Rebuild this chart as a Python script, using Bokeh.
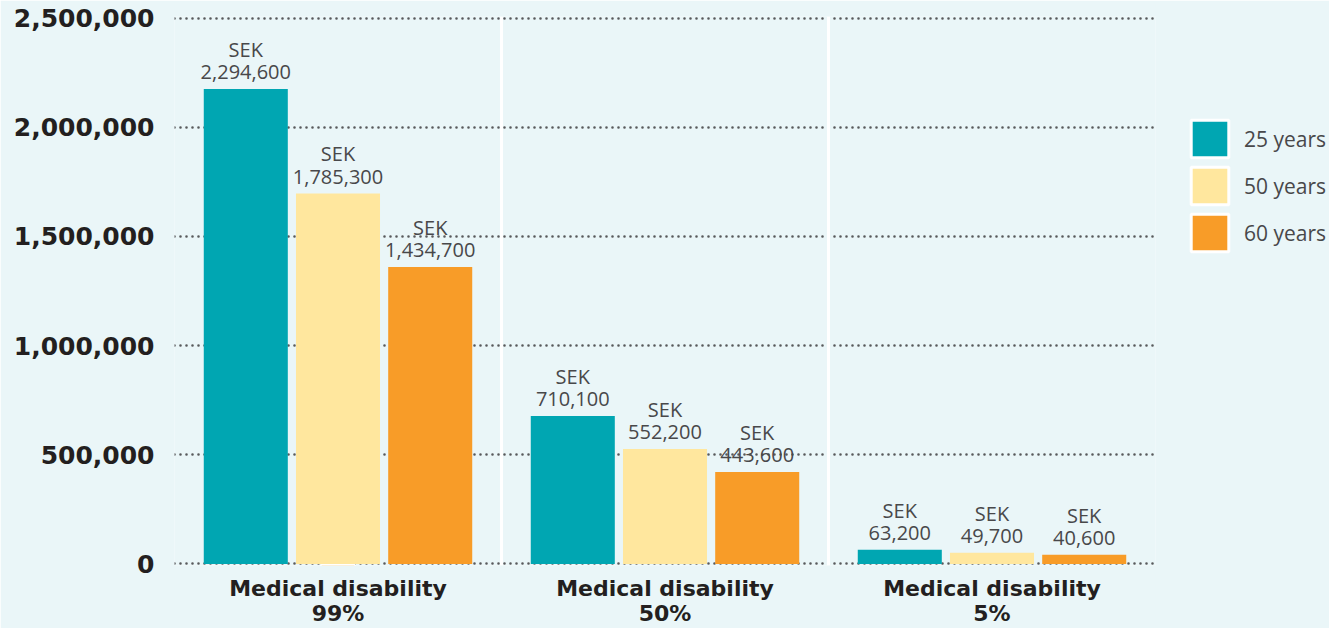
from bokeh.plotting import figure
from bokeh.models import ColumnDataSource, FactorRange, Range1d, Span, Legend, LegendItem, FixedTicker, NumeralTickFormatter
from bokeh.transform import dodge
from bokeh.core.properties import value
from bokeh.embed import file_html
from bokeh.resources import INLINE

groups = ["Medical disability\n99%", "Medical disability\n50%", "Medical disability\n5%"]
series = ["25 years", "50 years", "60 years"]
colors = ["#00A6B2", "#FFE79E", "#F89C28"]

# bar heights
bars_25 = [2175000, 678000, 65000]
bars_50 = [1696000, 527000, 51000]
bars_60 = [1360000, 421000, 42000]

# printed value labels
labels_25 = ["2,294,600", "710,100", "63,200"]
labels_50 = ["1,785,300", "552,200", "49,700"]
labels_60 = ["1,434,700", "443,600", "40,600"]

y_ticks = [0, 500000, 1000000, 1500000, 2000000, 2500000]

BG = "#EAF6F8"

p = figure(x_range=FactorRange(*groups), y_range=Range1d(-6870, 2506870),
           frame_width=981, frame_height=549,
           min_border_left=174, min_border_top=16, min_border_right=160, min_border_bottom=0,
           output_backend="svg", toolbar_location=None,
           background_fill_color=BG, border_fill_color=BG, outline_line_color=None)

for xloc in [1, 2]:
    p.add_layout(Span(location=xloc, dimension="height", line_color="white", line_width=3, level="underlay"))

series_bars = [bars_25, bars_50, bars_60]
series_labels = [labels_25, labels_50, labels_60]
offsets = [-0.282, 0.0, 0.282]

for vals, labs, off, col in zip(series_bars, series_labels, offsets, colors):
    src = ColumnDataSource(dict(g=groups, v=vals, t=["SEK\n" + s for s in labs]))
    p.vbar(x=dodge("g", off, range=p.x_range), top="v", width=0.257, source=src,
           fill_color=col, line_color=None)
    p.text(x=dodge("g", off, range=p.x_range), y="v", text="t", source=src,
           text_align="center", text_baseline="bottom", y_offset=-4,
           text_font=value("Open Sans"), text_font_size="20px", text_color="#48484a",
           text_line_height=0.82)

items = []
for name, col in zip(series, colors):
    r = p.vbar(x=[groups[0]], bottom=[-400000], top=[-300000], width=0.1,
               fill_color=col, line_color="white", line_width=3)
    items.append(LegendItem(label=name, renderers=[r]))

legend = Legend(items=items, location=(31, 309), glyph_width=47, glyph_height=47,
                spacing=-1, padding=0, margin=0, label_standoff=11,
                label_text_font="Open Sans", label_text_font_size="21px", label_text_color="#48484a",
                border_line_alpha=0, background_fill_alpha=0)
p.add_layout(legend, "right")

p.xgrid.visible = False
p.ygrid.ticker = FixedTicker(ticks=y_ticks)
p.ygrid.grid_line_color = "#58595B"
p.ygrid.grid_line_width = 2.6
p.ygrid.grid_line_dash = "0 6"
p.ygrid.grid_line_cap = "round"

p.yaxis.ticker = FixedTicker(ticks=y_ticks)
p.yaxis.formatter = NumeralTickFormatter(format="0,0")
p.yaxis.axis_line_color = None
p.yaxis.major_tick_line_color = None
p.yaxis.minor_tick_line_color = None
p.yaxis.major_tick_in = 0
p.yaxis.major_tick_out = 0
p.yaxis.major_label_standoff = 20
p.yaxis.major_label_text_font = "DejaVu Sans"
p.yaxis.major_label_text_font_style = "bold"
p.yaxis.major_label_text_font_size = "25px"
p.yaxis.major_label_text_color = "#231F20"

p.xaxis.axis_line_color = None
p.xaxis.major_tick_line_color = None
p.xaxis.major_tick_in = 0
p.xaxis.major_tick_out = 0
p.xaxis.major_label_standoff = 10
p.xaxis.major_label_text_font = "DejaVu Sans"
p.xaxis.major_label_text_font_style = "bold"
p.xaxis.major_label_text_font_size = "22px"
p.xaxis.major_label_text_color = "#231F20"
p.xaxis.major_label_text_line_height = 1.0

open("out.html", "w").write(file_html(p, INLINE))
